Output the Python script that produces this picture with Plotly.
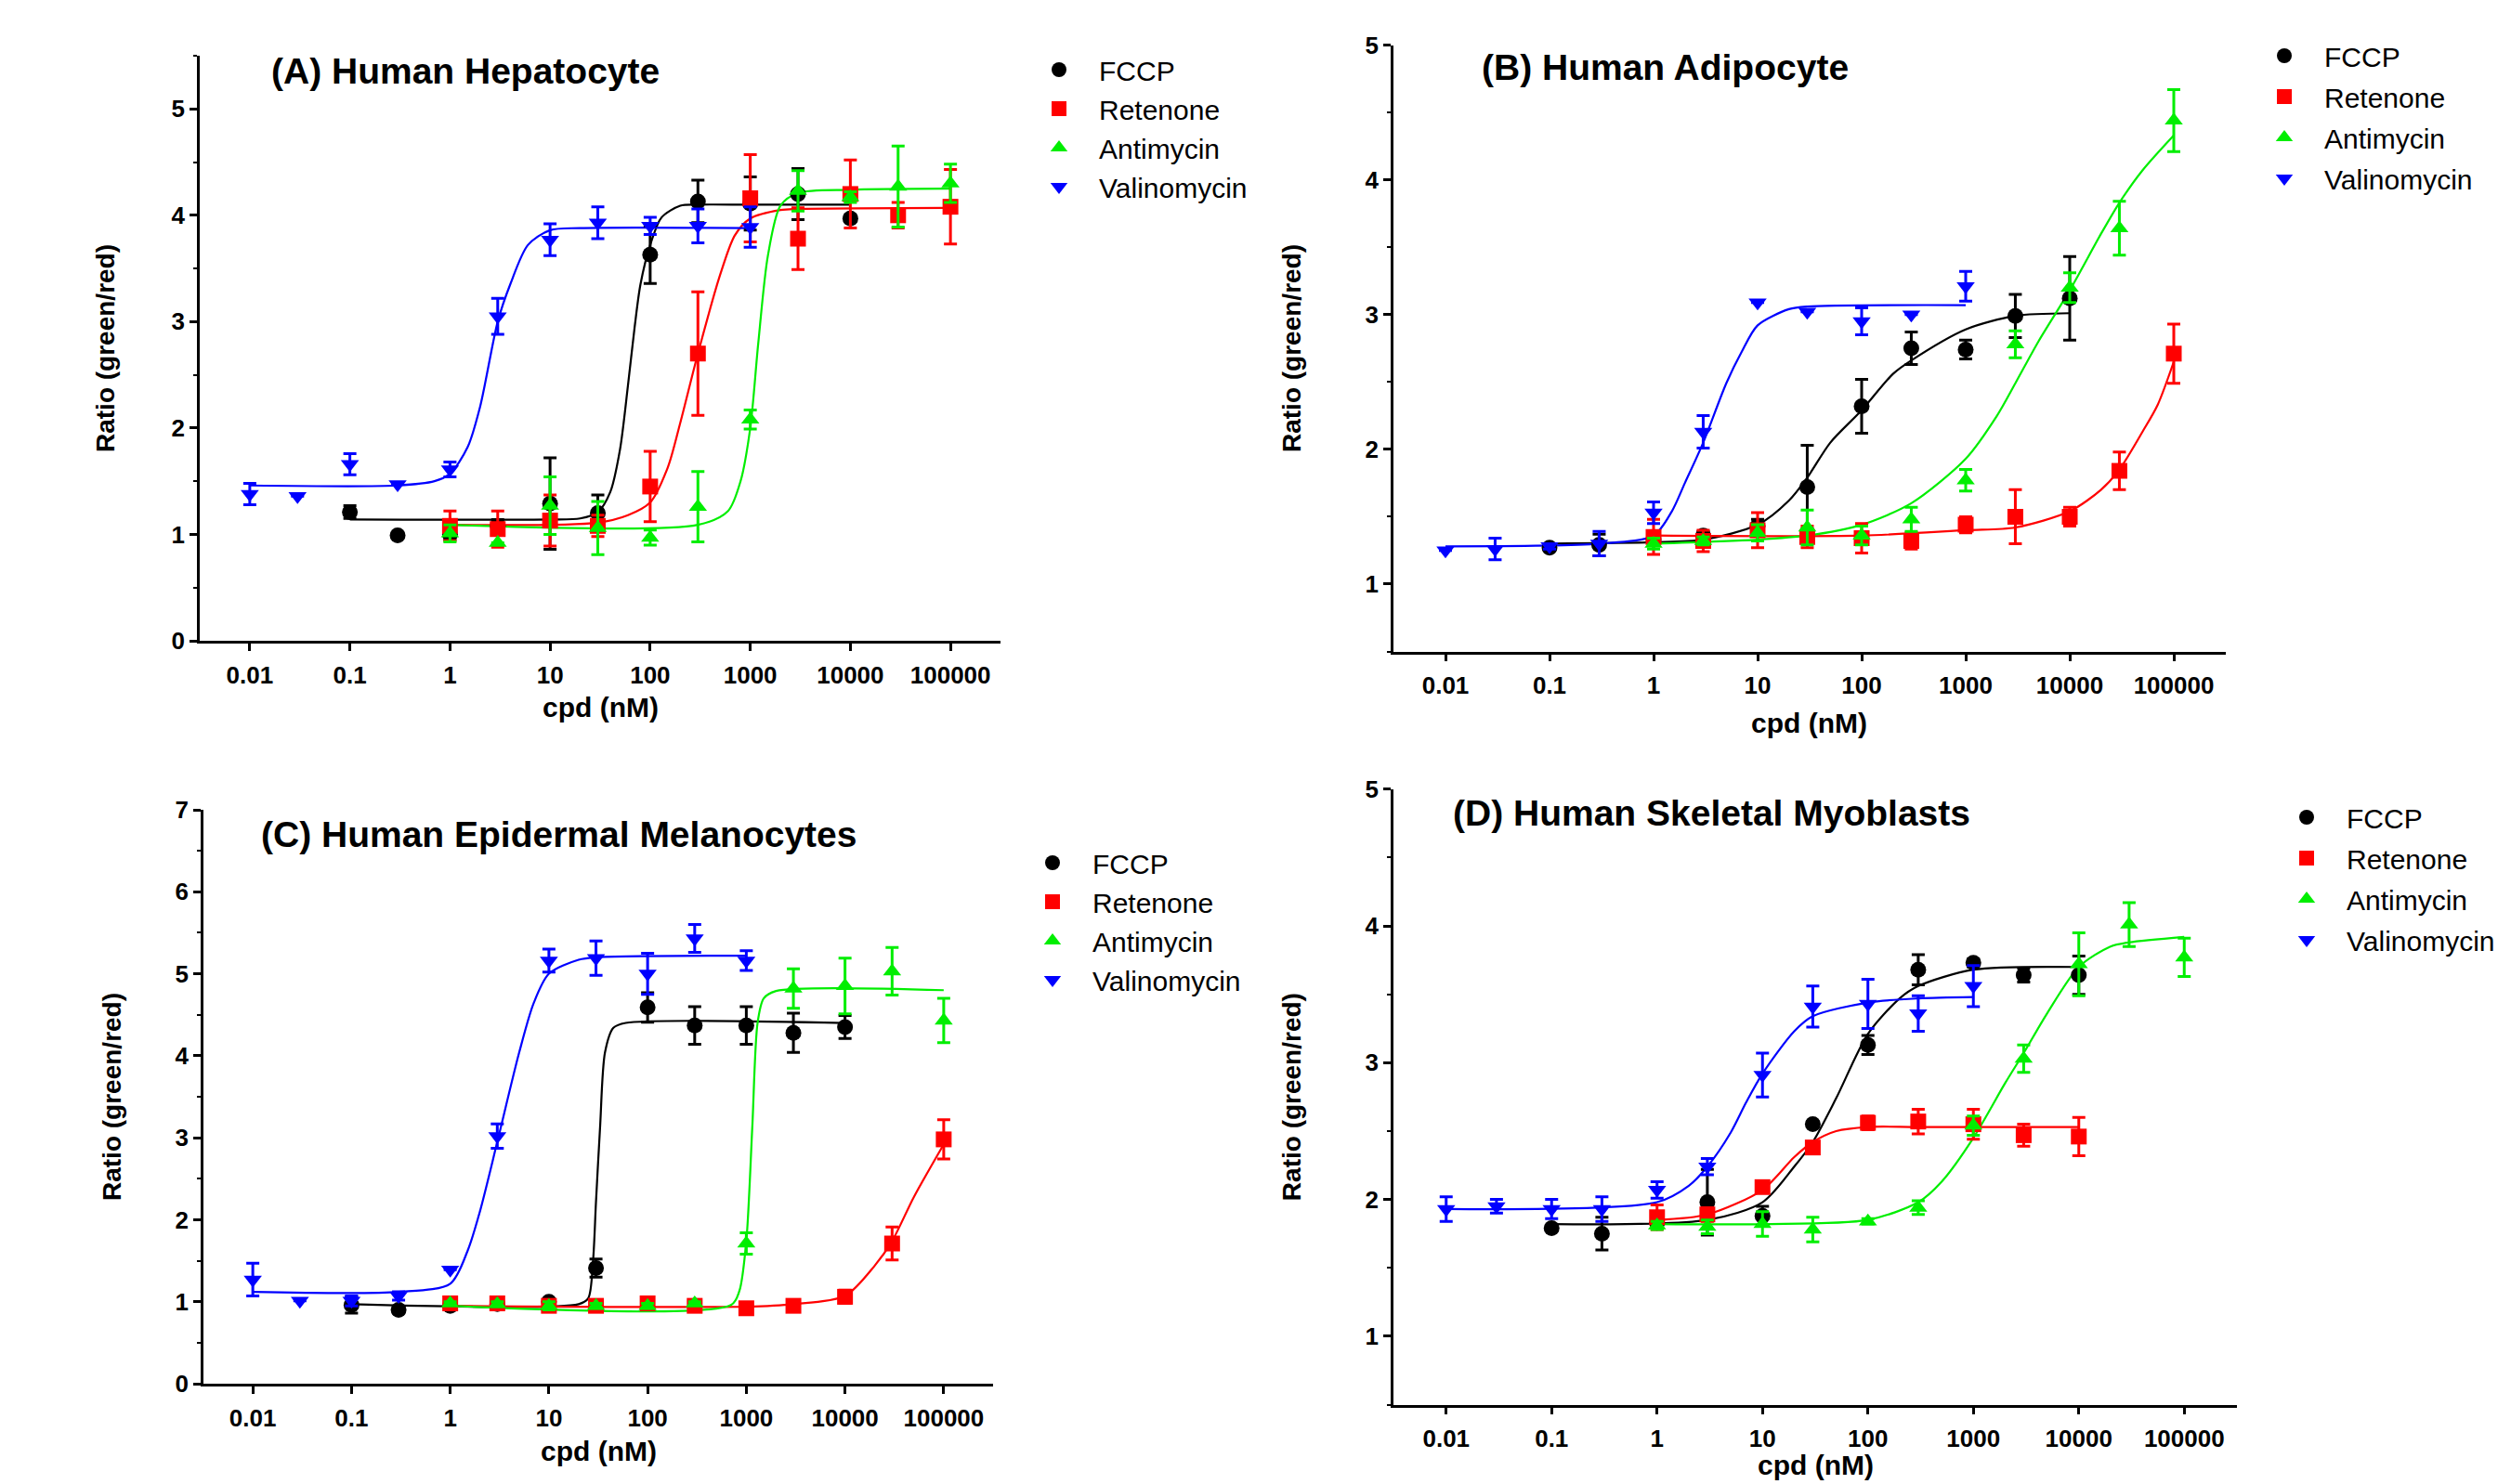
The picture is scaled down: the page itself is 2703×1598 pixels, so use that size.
import plotly.graph_objects as go

W, H = 2703, 1598

# ---------------- data ----------------
compounds = ["FCCP", "Retenone", "Antimycin", "Valinomycin"]
colors = ["#000000", "#FF0000", "#00EE00", "#0000FF"]
symbols = ["circle", "square", "triangle-up", "triangle-down"]

panel_titles = ["(A) Human Hepatocyte", "(B) Human Adipocyte",
                "(C) Human Epidermal Melanocytes", "(D) Human Skeletal Myoblasts"]
x_title = "cpd (nM)"
y_title = "Ratio (green/red)"

x_tick_vals = [0.01, 0.1, 1, 10, 100, 1000, 10000, 100000]
x_tick_text = ["0.01", "0.1", "1", "10", "100", "1000", "10000", "100000"]

conc_fccp = [0.1, 0.3, 1, 3, 10, 30, 100, 300, 1000, 3000, 10000]
conc_ret = [1, 3, 10, 30, 100, 300, 1000, 3000, 10000, 30000, 100000]
conc_ret_d = [1, 3, 10, 30, 100, 300, 1000, 3000, 10000]
conc_anti = [1, 3, 10, 30, 100, 300, 1000, 3000, 10000, 30000, 100000]
conc_vali = [0.01, 0.03, 0.1, 0.3, 1, 3, 10, 30, 100, 300, 1000]

# Panel A - Human Hepatocyte
A_fccp_y = [1.21, 0.99, 1.00, 1.08, 1.29, 1.20, 3.63, 4.13, 4.11, 4.20, 3.97]
A_fccp_err = [0.06, 0.0, 0.05, 0.06, 0.43, 0.17, 0.27, 0.20, 0.25, 0.24, 0.03]
A_ret_y = [1.08, 1.05, 1.13, 1.08, 1.45, 2.70, 4.16, 3.78, 4.20, 4.00, 4.08]
A_ret_err = [0.14, 0.17, 0.24, 0.10, 0.33, 0.58, 0.41, 0.29, 0.32, 0.12, 0.35]
A_anti_y = [1.01, 0.92, 1.27, 1.06, 0.97, 1.26, 2.08, 4.23, 4.17, 4.27, 4.30]
A_anti_err = [0.08, 0.0, 0.27, 0.25, 0.07, 0.33, 0.09, 0.19, 0.05, 0.38, 0.18]
A_vali_y = [1.38, 1.36, 1.66, 1.47, 1.61, 3.05, 3.77, 3.93, 3.90, 3.90, 3.89]
A_vali_err = [0.10, 0.0, 0.10, 0.0, 0.07, 0.17, 0.15, 0.15, 0.08, 0.16, 0.19]

A_fccp_fit_x = [0.1, 10, 20, 30, 40, 50, 60, 70, 80, 100, 130, 200, 300, 1000, 10000]
A_fccp_fit_y = [1.14, 1.14, 1.15, 1.21, 1.40, 1.80, 2.40, 2.95, 3.35, 3.72, 3.98, 4.09, 4.10, 4.10, 4.10]
A_ret_fit_x = [1, 30, 60, 100, 150, 200, 300, 500, 700, 1000, 2000, 3000, 100000]
A_ret_fit_y = [1.09, 1.11, 1.18, 1.30, 1.63, 2.05, 2.70, 3.44, 3.81, 3.97, 4.05, 4.06, 4.07]
A_anti_fit_x = [1, 300, 600, 800, 1000, 1200, 1500, 2000, 3000, 10000, 100000]
A_anti_fit_y = [1.09, 1.09, 1.22, 1.50, 2.00, 2.79, 3.62, 4.09, 4.21, 4.24, 4.25]
A_vali_fit_x = [0.01, 0.3, 0.7, 1, 1.5, 2, 3, 4, 6, 10, 20, 1000]
A_vali_fit_y = [1.46, 1.46, 1.50, 1.57, 1.82, 2.20, 3.00, 3.35, 3.72, 3.86, 3.88, 3.88]

# Panel B - Human Adipocyte
B_fccp_y = [1.27, 1.29, 1.33, 1.36, 1.43, 1.72, 2.32, 2.75, 2.74, 2.99, 3.12]
B_fccp_err = [0.02, 0.08, 0.0, 0.03, 0.05, 0.31, 0.20, 0.12, 0.07, 0.16, 0.31]
B_ret_y = [1.35, 1.32, 1.40, 1.35, 1.34, 1.32, 1.44, 1.50, 1.50, 1.84, 2.71]
B_ret_err = [0.13, 0.08, 0.13, 0.08, 0.11, 0.06, 0.06, 0.20, 0.07, 0.14, 0.22]
B_anti_y = [1.30, 1.32, 1.38, 1.42, 1.36, 1.48, 1.77, 2.78, 3.20, 3.64, 4.44]
B_anti_err = [0.04, 0.03, 0.06, 0.13, 0.07, 0.09, 0.08, 0.10, 0.11, 0.20, 0.23]
B_vali_y = [1.25, 1.26, 1.28, 1.30, 1.53, 2.13, 3.09, 3.02, 2.95, 3.00, 3.21]
B_vali_err = [0.0, 0.08, 0.02, 0.09, 0.08, 0.12, 0.0, 0.0, 0.10, 0.0, 0.11]

B_fccp_fit_x = [0.1, 1, 3, 10, 20, 30, 50, 100, 200, 300, 1000, 3000, 10000]
B_fccp_fit_y = [1.30, 1.31, 1.33, 1.44, 1.62, 1.79, 2.05, 2.29, 2.56, 2.66, 2.89, 2.99, 3.01]
B_ret_fit_x = [1, 100, 1000, 3000, 10000, 20000, 30000, 50000, 70000, 100000]
B_ret_fit_y = [1.36, 1.36, 1.40, 1.42, 1.54, 1.70, 1.85, 2.13, 2.33, 2.65]
B_anti_fit_x = [1, 10, 30, 100, 300, 1000, 2000, 3000, 5000, 10000, 20000, 30000, 50000, 100000]
B_anti_fit_y = [1.30, 1.33, 1.36, 1.44, 1.60, 1.93, 2.25, 2.49, 2.80, 3.18, 3.60, 3.83, 4.07, 4.33]
B_vali_fit_x = [0.01, 0.3, 1, 1.5, 2, 3, 5, 7, 10, 20, 30, 1000]
B_vali_fit_y = [1.28, 1.30, 1.36, 1.54, 1.75, 2.05, 2.49, 2.72, 2.92, 3.04, 3.06, 3.07]

# Panel C - Human Epidermal Melanocytes
C_fccp_y = [0.96, 0.90, 0.95, 0.97, 1.00, 1.41, 4.59, 4.37, 4.37, 4.28, 4.35]
C_fccp_err = [0.10, 0.04, 0.05, 0.0, 0.03, 0.11, 0.18, 0.23, 0.23, 0.24, 0.14]
C_ret_y = [0.98, 0.98, 0.95, 0.95, 0.98, 0.95, 0.92, 0.95, 1.06, 1.71, 2.98]
C_ret_err = [0.05, 0.06, 0.07, 0.06, 0.06, 0.05, 0.03, 0.04, 0.08, 0.20, 0.24]
C_anti_y = [0.98, 0.97, 0.95, 0.95, 0.95, 0.98, 1.71, 4.82, 4.85, 5.03, 4.43]
C_anti_err = [0.02, 0.03, 0.05, 0.03, 0.03, 0.02, 0.13, 0.24, 0.34, 0.29, 0.27]
C_vali_y = [1.27, 1.01, 1.01, 1.07, 1.39, 3.02, 5.16, 5.19, 5.00, 5.43, 5.16]
C_vali_err = [0.20, 0.0, 0.06, 0.05, 0.0, 0.15, 0.14, 0.21, 0.25, 0.17, 0.12]

C_fccp_fit_x = [0.1, 20, 25, 28, 30, 33, 37, 45, 60, 10000]
C_fccp_fit_y = [0.97, 0.97, 1.04, 1.50, 2.22, 3.13, 4.04, 4.34, 4.40, 4.40]
C_ret_fit_x = [1, 1000, 3000, 10000, 20000, 30000, 50000, 100000]
C_ret_fit_y = [0.95, 0.94, 0.97, 1.07, 1.44, 1.74, 2.28, 2.92]
C_anti_fit_x = [1, 700, 850, 1000, 1150, 1300, 1500, 2000, 100000]
C_anti_fit_y = [0.95, 0.96, 1.13, 1.74, 3.13, 4.40, 4.70, 4.79, 4.80]
C_vali_fit_x = [0.01, 0.3, 1, 1.5, 2, 3, 5, 7, 10, 20, 30, 1000]
C_vali_fit_y = [1.12, 1.12, 1.22, 1.62, 2.10, 2.95, 4.04, 4.64, 5.00, 5.17, 5.20, 5.22]

# Panel D - Human Skeletal Myoblasts
D_fccp_y = [1.79, 1.75, 1.83, 1.98, 1.88, 2.55, 3.13, 3.68, 3.73, 3.64, 3.64]
D_fccp_err = [0.02, 0.12, 0.03, 0.24, 0.07, 0.02, 0.07, 0.11, 0.03, 0.05, 0.14]
D_ret_y = [1.87, 1.89, 2.09, 2.38, 2.56, 2.57, 2.55, 2.47, 2.46]
D_ret_err = [0.09, 0.05, 0.03, 0.04, 0.05, 0.09, 0.11, 0.08, 0.14]
D_anti_y = [1.81, 1.80, 1.82, 1.78, 1.84, 1.94, 2.54, 3.03, 3.72, 4.01, 3.77]
D_anti_err = [0.03, 0.05, 0.09, 0.09, 0.02, 0.05, 0.07, 0.10, 0.23, 0.16, 0.14]
D_vali_y = [1.93, 1.95, 1.93, 1.93, 2.07, 2.24, 2.91, 3.41, 3.43, 3.36, 3.56]
D_vali_err = [0.09, 0.05, 0.07, 0.09, 0.06, 0.06, 0.16, 0.15, 0.18, 0.13, 0.15]

D_fccp_fit_x = [0.1, 3, 10, 20, 30, 50, 100, 200, 300, 1000, 10000]
D_fccp_fit_y = [1.82, 1.85, 1.98, 2.24, 2.42, 2.74, 3.21, 3.47, 3.56, 3.68, 3.70]
D_ret_fit_x = [1, 3, 10, 20, 30, 50, 100, 300, 10000]
D_ret_fit_y = [1.85, 1.89, 2.07, 2.31, 2.42, 2.50, 2.53, 2.53, 2.53]
D_anti_fit_x = [1, 10, 100, 300, 500, 1000, 2000, 3000, 5000, 10000, 20000, 30000, 100000]
D_anti_fit_y = [1.82, 1.82, 1.85, 1.98, 2.13, 2.45, 2.85, 3.07, 3.36, 3.70, 3.85, 3.88, 3.92]
D_vali_fit_x = [0.01, 1, 2, 3, 5, 7, 10, 20, 30, 100, 300, 1000]
D_vali_fit_y = [1.93, 1.98, 2.10, 2.24, 2.49, 2.71, 2.92, 3.23, 3.34, 3.44, 3.47, 3.48]

y_ranges = [[0, 5.5], [0.5, 5], [0, 7], [0.5, 5]]

# ---------------- assemble ----------------
panels_series = [
    [(conc_fccp, A_fccp_y, A_fccp_err, A_fccp_fit_x, A_fccp_fit_y),
     (conc_ret, A_ret_y, A_ret_err, A_ret_fit_x, A_ret_fit_y),
     (conc_anti, A_anti_y, A_anti_err, A_anti_fit_x, A_anti_fit_y),
     (conc_vali, A_vali_y, A_vali_err, A_vali_fit_x, A_vali_fit_y)],
    [(conc_fccp, B_fccp_y, B_fccp_err, B_fccp_fit_x, B_fccp_fit_y),
     (conc_ret, B_ret_y, B_ret_err, B_ret_fit_x, B_ret_fit_y),
     (conc_anti, B_anti_y, B_anti_err, B_anti_fit_x, B_anti_fit_y),
     (conc_vali, B_vali_y, B_vali_err, B_vali_fit_x, B_vali_fit_y)],
    [(conc_fccp, C_fccp_y, C_fccp_err, C_fccp_fit_x, C_fccp_fit_y),
     (conc_ret, C_ret_y, C_ret_err, C_ret_fit_x, C_ret_fit_y),
     (conc_anti, C_anti_y, C_anti_err, C_anti_fit_x, C_anti_fit_y),
     (conc_vali, C_vali_y, C_vali_err, C_vali_fit_x, C_vali_fit_y)],
    [(conc_fccp, D_fccp_y, D_fccp_err, D_fccp_fit_x, D_fccp_fit_y),
     (conc_ret_d, D_ret_y, D_ret_err, D_ret_fit_x, D_ret_fit_y),
     (conc_anti, D_anti_y, D_anti_err, D_anti_fit_x, D_anti_fit_y),
     (conc_vali, D_vali_y, D_vali_err, D_vali_fit_x, D_vali_fit_y)],
]

# pixel layout helpers
def fx(px):
    return px / W

def fy(py):
    return 1 - py / H

# plot-area boxes in pixels: (left, right, top, bottom)
boxes = [(215, 1077, 60, 690), (1500, 2396, 48.5, 701.5),
         (219, 1069, 872, 1490), (1500, 2408, 849.8, 1512.5)]
title_pos = [(290, 77), (1593, 72), (279, 898), (1562, 875)]
xtitle_y = [761, 778, 1562, 1577]
ytitle_x = [113, 1390, 120, 1390]
legend_pos = [(1097, 49, 0), (2416, 34, 2), (1090, 903, 0), (2440, 854, 2)]

FONT = "Liberation Sans, Arial, Helvetica, sans-serif"

fig = go.Figure()
layout = dict(width=W, height=H,
              margin=dict(l=0, r=0, t=0, b=0, pad=0, autoexpand=False),
              paper_bgcolor="white", plot_bgcolor="white", showlegend=True,
              annotations=[])

for p in range(4):
    sfx = "" if p == 0 else str(p + 1)
    xa, ya = "x" + sfx, "y" + sfx
    lg = "legend" + sfx
    # fitted curves first
    for s, (cx, cy, ce, fxv, fyv) in enumerate(panels_series[p]):
        fig.add_trace(go.Scatter(x=fxv, y=fyv, mode="lines", xaxis=xa, yaxis=ya,
                                 line=dict(color=colors[s], width=2.2, shape="spline", smoothing=0.8),
                                 showlegend=False, hoverinfo="skip",
                                 legend=lg, legendgroup=f"{p}{s}"))
    for s, (cx, cy, ce, fxv, fyv) in enumerate(panels_series[p]):
        fig.add_trace(go.Scatter(x=cx, y=cy, mode="markers", xaxis=xa, yaxis=ya,
                                 marker=dict(symbol=symbols[s], size=17, color=colors[s]),
                                 error_y=dict(type="data", array=ce, symmetric=True,
                                              color=colors[s], thickness=3, width=7),
                                 showlegend=False, legend=lg, legendgroup=f"{p}{s}",
                                 name=compounds[s]))
    # legend entries
    for s in range(4):
        fig.add_trace(go.Scatter(x=[None], y=[None], mode="markers", xaxis=xa, yaxis=ya,
                                 marker=dict(symbol=symbols[s], size=16, color=colors[s]),
                                 name=compounds[s], showlegend=True, legend=lg,
                                 legendgroup=f"{p}{s}"))

    l, r, t, b = boxes[p]
    layout["xaxis" + sfx] = dict(
        type="log", range=[-2.5, 5.5], domain=[fx(l), fx(r)], anchor=ya,
        tickvals=x_tick_vals, ticktext=x_tick_text, ticks="outside", ticklen=8,
        tickwidth=2.5, tickcolor="black", showline=True, linewidth=2.5, linecolor="black",
        showgrid=False, zeroline=False, ticklabelstandoff=4, automargin=False,
        tickfont=dict(family=FONT, size=26, color="black", weight="bold"))
    layout["yaxis" + sfx] = dict(
        range=y_ranges[p], domain=[fy(b), fy(t)], anchor=xa,
        tick0=0, dtick=1, ticks="outside", ticklen=8, tickwidth=2.5, tickcolor="black",
        showline=True, linewidth=2.5, linecolor="black", showgrid=False, zeroline=False,
        automargin=False,
        minor=dict(ticks="outside", ticklen=4, tickwidth=2, tickcolor="black",
                   tick0=0, dtick=0.5, showgrid=False),
        tickfont=dict(family=FONT, size=26, color="black", weight="bold"))
    lx, ly, gap = legend_pos[p]
    layout[lg] = dict(x=fx(lx), y=fy(ly), xanchor="left", yanchor="top",
                      font=dict(family=FONT, size=30, color="black"),
                      bgcolor="rgba(0,0,0,0)", borderwidth=0, itemwidth=76,
                      tracegroupgap=gap, traceorder="grouped")
    tx, ty = title_pos[p]
    layout["annotations"] += [
        dict(text=panel_titles[p], x=fx(tx), y=fy(ty), xref="paper", yref="paper",
             xanchor="left", yanchor="middle", showarrow=False,
             font=dict(family=FONT, size=39, color="black", weight="bold")),
        dict(text=x_title, x=fx((l + r) / 2), y=fy(xtitle_y[p]), xref="paper", yref="paper",
             xanchor="center", yanchor="middle", showarrow=False,
             font=dict(family=FONT, size=30, color="black", weight="bold")),
        dict(text=y_title, x=fx(ytitle_x[p]), y=fy((t + b) / 2), xref="paper", yref="paper",
             xanchor="center", yanchor="middle", showarrow=False, textangle=-90,
             font=dict(family=FONT, size=28, color="black", weight="bold")),
    ]

fig.update_layout(**layout)
fig.write_html("out.html", config={"displayModeBar": False},
               post_script="document.body.style.margin='0';document.body.style.overflow='hidden';")
